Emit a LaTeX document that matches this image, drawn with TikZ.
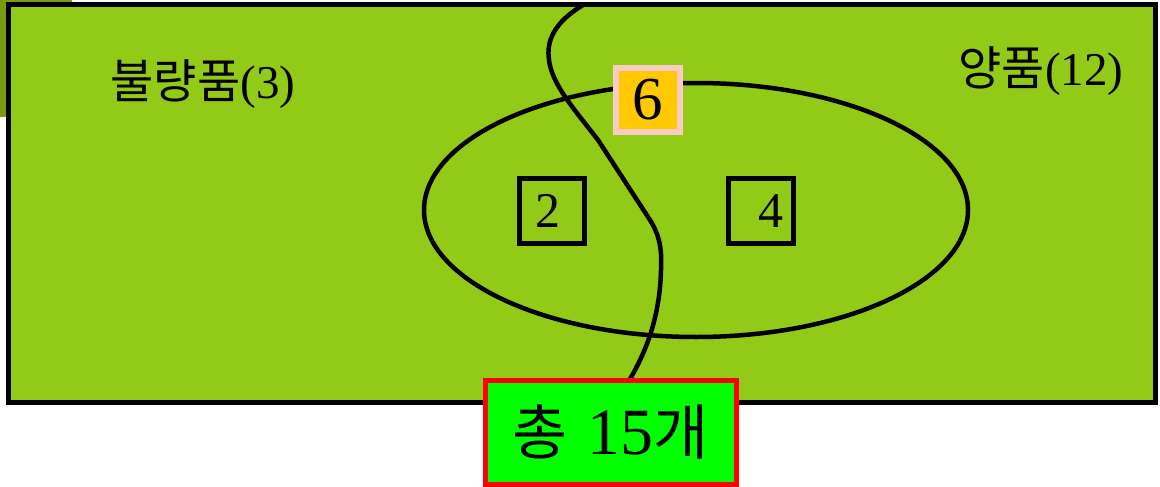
\documentclass[tikz,border=0pt]{standalone}
\usepackage{fontspec}
\setmainfont{Liberation Serif}
\newfontfamily\kr{Noto Sans CJK KR}
\definecolor{bgreen}{RGB}{146,202,24}
\definecolor{olivedk}{RGB}{122,156,18}
\definecolor{pinkb}{RGB}{248,204,196}
\definecolor{goldf}{RGB}{255,200,0}
\definecolor{limef}{RGB}{0,255,0}
\tikzset{
  framebox/.style={draw=black, line width=5pt, fill=bgreen, inner sep=0pt},
  numbox/.style={draw=black, line width=5pt, minimum size=65pt, inner sep=0pt, font=\fontsize{50}{50}\selectfont},
  topbox/.style={draw=pinkb, line width=6pt, fill=goldf, minimum size=64pt, inner sep=0pt, font=\fontsize{61}{61}\selectfont},
  totalbox/.style={draw=red, line width=5pt, fill=limef, minimum width=251pt, minimum height=104pt, inner sep=0pt, font=\fontsize{66}{66}\selectfont},
  lbl/.style={inner sep=0pt, font=\fontsize{47}{47}\selectfont},
  curveline/.style={line width=4.5pt}
}
\begin{document}
\begin{tikzpicture}[x=1pt,y=-1pt]
\useasboundingbox (0,0) rectangle (1160,487);
\fill[olivedk] (0,0) rectangle (72,117);
\node[framebox, minimum width=1147pt, minimum height=397pt] (frame) at (581.5,203.5) {};
\draw[line width=4.5pt] (696,210) ellipse [x radius=272pt, y radius=127pt];
\coordinate (ctop) at (583,5);
\coordinate (cbot) at (630,379);
\draw[curveline] (ctop) .. controls (555,22) and (546,40) .. (549,60)
  .. controls (552,85) and (575,110) .. (598,140)
  -- (650,220) .. controls (660,236) and (662,250) .. (661,270)
  .. controls (660,310) and (650,345) .. (cbot);
\node[numbox] (two) at (552,211) {\hspace*{-8pt}2};
\node[numbox] (four) at (760.5,211) {\hspace*{21pt}4};
\node[topbox] (six) at (648,100) {6};
\node[lbl] (bad) at (203,84) {{\kr 불량품}(3)};
\node[lbl] (good) at (1041,71) {{\kr 양품}(12)};
\node[totalbox] (total) at (610.5,432) {{\kr\fontsize{60}{60}\selectfont 총}\hspace{4pt} 15{\kr\fontsize{60}{60}\selectfont 개}};
\end{tikzpicture}
\end{document}
